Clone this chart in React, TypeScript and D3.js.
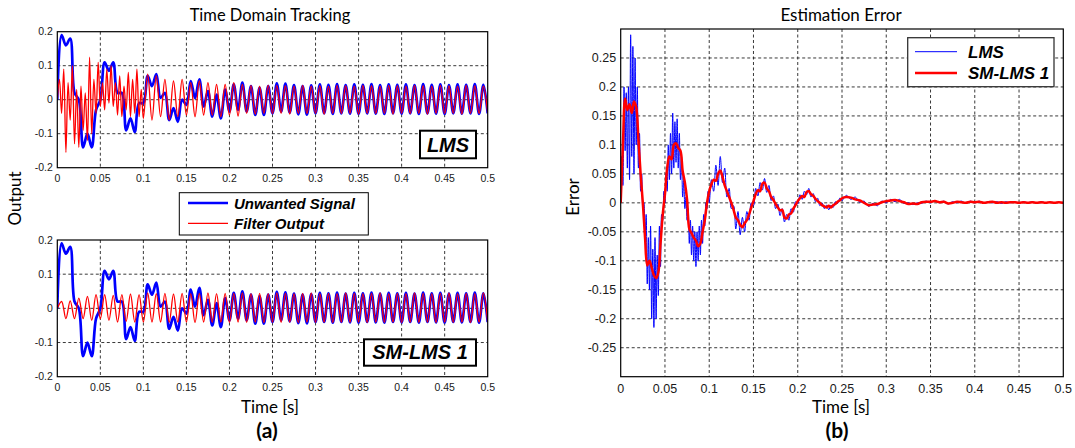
import React from 'react'
import * as d3 from 'd3'

// panel (a): unwanted signal, one value every 5 ms from t = 0
const unwantedSignal = [
  0.0, 0.19, 0.16, 0.18, 0.02, 0.0, -0.14, -0.1, -0.14, -0.03,
  0.0, 0.11, 0.085, 0.11, 0.02, 0.02, -0.09, -0.055, -0.095, -0.01,
  -0.01, 0.07, 0.04, 0.075, 0.005, 0.02, -0.06, -0.025, -0.065, 0.0,
  -0.015, 0.055, 0.005, 0.06, -0.02, 0.025, -0.05, 0.015, -0.055, 0.03,
  -0.035, 0.045, -0.03, 0.05, -0.035, 0.04, -0.045, 0.035, -0.045, 0.04,
  -0.04, 0.048, -0.035, 0.047, -0.038, 0.043, -0.043, 0.04, -0.044, 0.042,
  -0.04, 0.045, -0.04, 0.044, -0.042, 0.046, -0.04, 0.043, -0.041, 0.045,
  -0.042, 0.044, -0.04, 0.046, -0.041, 0.043, -0.042, 0.045, -0.04, 0.044,
  -0.041, 0.045, -0.04, 0.043, -0.042, 0.046, -0.04, 0.044, -0.041, 0.045,
  -0.042, 0.043, -0.04, 0.045, -0.041, 0.044, -0.04, 0.046, -0.042, 0.044,
  -0.04
]

// LMS filter output: 2.5 ms steps up to 0.1 s ...
const lmsOutputEarly = [
  0.0, 0.06, -0.04, 0.09, -0.155, 0.05, -0.06, 0.1, -0.13, 0.03,
  -0.14, 0.04, -0.09, 0.02, -0.12, 0.125, -0.1, 0.06, -0.04, 0.11,
  -0.02, 0.05, -0.03, 0.09, -0.01, 0.1, -0.02, 0.05, -0.045, 0.07,
  -0.05, 0.04, -0.03, 0.08, -0.05, 0.06, -0.04, 0.09, -0.05, 0.03,
  -0.055
]
// ... then 5 ms steps from 0.105 s
const lmsOutputLate = [
  0.075, -0.06, 0.07, -0.05, 0.06, -0.06, 0.055, -0.05, 0.06, -0.045,
  0.05, -0.05, 0.055, -0.045, 0.05, -0.045, 0.045, -0.05, 0.045, -0.045,
  0.05, -0.048, 0.045, -0.04, 0.042, -0.042, 0.04, -0.04, 0.043, -0.041,
  0.042, -0.04, 0.041, -0.042, 0.04, -0.04, 0.042, -0.041, 0.04, -0.04,
  0.041, -0.042, 0.04, -0.04, 0.042, -0.041, 0.041, -0.04, 0.04, -0.042,
  0.042, -0.04, 0.041, -0.041, 0.04, -0.04, 0.042, -0.042, 0.041, -0.04,
  0.04, -0.041, 0.042, -0.04, 0.041, -0.042, 0.04, -0.04, 0.042, -0.041,
  0.041, -0.04, 0.04, -0.042, 0.042, -0.04, 0.041, -0.041, 0.04, -0.04
]

// SM-LMS filter output, 5 ms steps
const smLmsOutput = [
  0.0, 0.02, -0.03, 0.022, -0.03, 0.03, -0.03, 0.035, -0.035, 0.04,
  -0.03, 0.04, -0.035, 0.038, -0.04, 0.04, -0.038, 0.042, -0.04, 0.04,
  -0.04, 0.045, -0.04, 0.043, -0.04, 0.044, -0.041, 0.042, -0.04, 0.044,
  -0.04, 0.043, -0.042, 0.044, -0.04, 0.045, -0.041, 0.043, -0.04, 0.044,
  -0.042, 0.044, -0.04, 0.045, -0.041, 0.043, -0.04, 0.044, -0.042, 0.043,
  -0.04, 0.045, -0.041, 0.044, -0.04, 0.043, -0.042, 0.044, -0.04, 0.045,
  -0.041, 0.043, -0.04, 0.044, -0.042, 0.043, -0.04, 0.045, -0.041, 0.044,
  -0.04, 0.043, -0.042, 0.044, -0.04, 0.045, -0.041, 0.043, -0.04, 0.044,
  -0.042, 0.043, -0.04, 0.045, -0.041, 0.044, -0.04, 0.043, -0.042, 0.044,
  -0.04, 0.045, -0.041, 0.043, -0.04, 0.044, -0.042, 0.043, -0.04, 0.045,
  -0.041
]

// panel (b): LMS error, 1.25 ms steps up to 0.1 s, 2.5 ms to 0.25 s, then 5 ms
const lmsErrorA = [
  0.0, 0.08, 0.03, 0.2, 0.09, 0.19, 0.06, 0.2, 0.04, 0.29,
  0.08, 0.27, 0.05, 0.25, 0.1, 0.2, 0.06, 0.12, 0.02, 0.05,
  -0.01, 0.0, -0.06, -0.02, -0.14, -0.06, -0.15, -0.04, -0.2, -0.08,
  -0.215, -0.06, -0.2, -0.09, -0.16, -0.04, -0.11, -0.02, -0.03, 0.02,
  0.0, 0.05, 0.02, 0.1, 0.04, 0.12, 0.05, 0.155, 0.06, 0.14,
  0.07, 0.145, 0.06, 0.12, 0.04, 0.08, 0.01, 0.04, -0.01, 0.01,
  -0.03, -0.01, -0.07, -0.03, -0.09, -0.04, -0.1, -0.05, -0.11, -0.05,
  -0.1, -0.04, -0.09, -0.03, -0.07, -0.02, -0.04, 0.0, -0.01, 0.02,
  0.0
]
const lmsErrorB = [
  0.04, 0.02, 0.065, 0.03, 0.08, 0.035, 0.06, 0.01, 0.025,
  -0.01, -0.005, -0.045, -0.015, -0.055, -0.025, -0.05, -0.015, -0.03, 0.0,
  -0.005, 0.025, 0.012, 0.035, 0.022, 0.042, 0.018, 0.03, 0.004, 0.012,
  -0.01, -0.002, -0.022, -0.01, -0.033, -0.02, -0.03, -0.01, -0.016, 0.002,
  -0.002, 0.014, 0.006, 0.02, 0.014, 0.025, 0.01, 0.016, 0.002, 0.008,
  -0.005, 0.0, -0.01, -0.004, -0.012, -0.004, -0.008, 0.002, -0.001, 0.008,
  0.004
]
const lmsErrorC = [
  0.013, 0.006, 0.01, 0.001, 0.003, -0.006, -0.001, -0.005, 0.003, 0.0,
  0.006, 0.002, 0.006, -0.001, 0.0, -0.003, 0.0, -0.001, 0.003, 0.0,
  0.004, 0.0, 0.003, -0.002, 0.002, 0.0, 0.003, -0.001, 0.003, 0.0,
  0.003, -0.001, 0.002, 0.0, 0.002, -0.001, 0.002, 0.0, 0.002, -0.001,
  0.002, 0.0, 0.002, -0.001, 0.002, 0.0, 0.001, 0.0, 0.001, 0.0
]
// SM-LMS error, 2.5 ms steps up to 0.25 s, then 5 ms
const smLmsErrorEarly = [
  0.0, 0.1, 0.18, 0.16, 0.17, 0.155, 0.175, 0.165, 0.11, 0.05,
  0.0, -0.06, -0.108, -0.1, -0.112, -0.125, -0.13, -0.12, -0.07, -0.02,
  0.015, 0.06, 0.08, 0.075, 0.1, 0.103, 0.095, 0.09, 0.055, 0.035,
  0.005, -0.045, -0.052, -0.06, -0.065, -0.075, -0.07, -0.05, -0.03, 0.0,
  0.02, 0.032, 0.04, 0.038, 0.05, 0.056, 0.045, 0.03, 0.02, 0.01,
  0.0, -0.012, -0.025, -0.03, -0.038, -0.042, -0.035, -0.03, -0.02, -0.008,
  0.003, 0.015, 0.022, 0.02, 0.033, 0.035, 0.025, 0.02, 0.01, 0.005,
  -0.002, -0.008, -0.013, -0.012, -0.025, -0.027, -0.02, -0.018, -0.01, -0.004,
  0.003, 0.008, 0.012, 0.01, 0.019, 0.02, 0.015, 0.012, 0.007, 0.003,
  0.0, -0.004, -0.006, -0.008, -0.005, -0.008, -0.004, -0.002, 0.002, 0.004,
  0.008
]
const smLmsErrorLate = [
  0.01, 0.009, 0.006, 0.004, 0.0, -0.004, -0.003, -0.002, 0.001, 0.003,
  0.004, 0.005, 0.003, 0.001, -0.002, -0.001, -0.002, 0.001, 0.002, 0.002,
  0.003, 0.001, 0.002, -0.001, 0.0, 0.002, 0.001, 0.0, 0.002, 0.001,
  0.002, 0.0, 0.001, 0.002, 0.0, 0.001, 0.0, 0.001, 0.001, 0.0,
  0.001, 0.0, 0.001, 0.0, 0.001, 0.0, 0.001, 0.0, 0.001, 0.0
]

const timeTicks = [0, 0.05, 0.1, 0.15, 0.2, 0.25, 0.3, 0.35, 0.4, 0.45, 0.5]
const outputTicks = [-0.2, -0.1, 0, 0.1, 0.2]
const errorTicks = [-0.25, -0.2, -0.15, -0.1, -0.05, 0, 0.05, 0.1, 0.15, 0.2, 0.25]

const BLUE = '#0000ff'
const RED = '#ff0000'
const ARIAL = '"Liberation Sans", Arial, sans-serif'
const CALIBRI = 'Lato, "Open Sans", sans-serif'

type Pt = [number, number]
const sampled = (values: number[], start: number, step: number): Pt[] =>
  values.map((v, i) => [start + i * step, v])

const unwantedPts = sampled(unwantedSignal, 0, 0.005)
const lmsOutputPts = [...sampled(lmsOutputEarly, 0, 0.0025), ...sampled(lmsOutputLate, 0.105, 0.005)]
const smLmsOutputPts = sampled(smLmsOutput, 0, 0.005)
const lmsErrorPts = [
  ...sampled(lmsErrorA, 0, 0.00125),
  ...sampled(lmsErrorB, 0.1025, 0.0025),
  ...sampled(lmsErrorC, 0.255, 0.005)
]
const smLmsErrorPts = [...sampled(smLmsErrorEarly, 0, 0.0025), ...sampled(smLmsErrorLate, 0.255, 0.005)]

const fmt = (v: number) => String(+v.toFixed(3))

type Series = { pts: Pt[]; color: string; width: number }

function Axes({ id, box, yDomain, yTicks, fontSize, series }: {
  id: string
  box: [number, number, number, number]
  yDomain: [number, number]
  yTicks: number[]
  fontSize: number
  series: Series[]
}) {
  const [left, top, right, bottom] = box
  const x = d3.scaleLinear().domain([0, 0.5]).range([left, right])
  const y = d3.scaleLinear().domain(yDomain).range([bottom, top])
  const line = d3.line<Pt>().x(d => x(d[0])).y(d => y(d[1])).curve(d3.curveCatmullRom.alpha(0.5))
  const xGrid = timeTicks.filter(t => t > 0 && t < 0.5)
  const yGrid = yTicks.filter(v => v > yDomain[0] && v < yDomain[1])

  return (
    <g>
      <rect x={left} y={top} width={right - left} height={bottom - top} fill="#fff" />
      <clipPath id={id}>
        <rect x={left} y={top} width={right - left} height={bottom - top} />
      </clipPath>
      <g stroke="#222" strokeWidth={0.9} strokeDasharray="3,2.5">
        {xGrid.map(t => <line key={'x' + t} x1={x(t)} x2={x(t)} y1={top} y2={bottom} />)}
        {yGrid.map(v => <line key={'y' + v} x1={left} x2={right} y1={y(v)} y2={y(v)} />)}
      </g>
      <g clipPath={`url(#${id})`} fill="none" strokeLinejoin="round">
        {series.map((s, i) => (
          <path key={i} d={line(s.pts) || ''} stroke={s.color} strokeWidth={s.width} />
        ))}
      </g>
      <rect x={left} y={top} width={right - left} height={bottom - top} fill="none" stroke="#000" strokeWidth={1.2} />
      <g fontFamily={ARIAL} fontSize={fontSize} fill="#1a1a1a">
        {timeTicks.map(t => (
          <text key={t} x={x(t)} y={bottom + fontSize + 4} textAnchor="middle">{fmt(t)}</text>
        ))}
        {yTicks.map(v => (
          <text key={v} x={left - 4.5} y={y(v)} dy="0.35em" textAnchor="end">{fmt(v)}</text>
        ))}
      </g>
    </g>
  )
}

function LabelBox({ x, y, w, h, text }: { x: number; y: number; w: number; h: number; text: string }) {
  return (
    <g>
      <rect x={x} y={y} width={w} height={h} fill="#fff" stroke="#000" strokeWidth={2} />
      <text x={x + w / 2} y={y + h - 6.5} textAnchor="middle" fontFamily={ARIAL}
        fontWeight="bold" fontStyle="italic" fontSize={20}>{text}</text>
    </g>
  )
}

export default function App() {
  return (
    <svg width={1075} height={448} style={{ position: 'absolute', left: 0, top: 0, background: '#fff' }}>
      {/* (a) time domain tracking */}
      <text x={270} y={20.5} textAnchor="middle" fontFamily={CALIBRI} fontSize={16.5}>Time Domain Tracking</text>
      <Axes id="clip-lms" box={[57.3, 31.7, 487.7, 167.7]} yDomain={[-0.2, 0.2]} yTicks={outputTicks}
        fontSize={10.5}
        series={[
          { pts: unwantedPts, color: BLUE, width: 2.7 },
          { pts: lmsOutputPts, color: RED, width: 1.3 }
        ]} />
      <LabelBox x={420} y={130.7} w={56} h={27.6} text="LMS" />
      <Axes id="clip-smlms" box={[57.3, 240, 487.7, 376.7]} yDomain={[-0.2, 0.2]} yTicks={outputTicks}
        fontSize={10.5}
        series={[
          { pts: unwantedPts, color: BLUE, width: 2.7 },
          { pts: smLmsOutputPts, color: RED, width: 1.3 }
        ]} />
      <LabelBox x={364} y={339.3} w={112} h={26.4} text="SM-LMS 1" />

      <g>
        <rect x={179.3} y={192.7} width={189} height={42.3} fill="#fff" stroke="#000" strokeWidth={1} />
        <line x1={188} x2={228} y1={203} y2={203} stroke={BLUE} strokeWidth={2.7} />
        <line x1={188} x2={228} y1={223.3} y2={223.3} stroke={RED} strokeWidth={1.3} />
        <g fontFamily={ARIAL} fontWeight="bold" fontStyle="italic" fontSize={15}>
          <text x={234} y={208.8}>Unwanted Signal</text>
          <text x={234} y={228.6}>Filter Output</text>
        </g>
      </g>

      <text transform="translate(21,198.5) rotate(-90)" textAnchor="middle" fontFamily={CALIBRI} fontSize={17}>Output</text>
      <text x={270} y={413} textAnchor="middle" fontFamily={CALIBRI} fontSize={17}>Time [s]</text>
      <text x={267} y={438} textAnchor="middle" fontFamily={CALIBRI} fontWeight="bold" fontSize={21}>(a)</text>

      {/* (b) estimation error */}
      <text x={841} y={21} textAnchor="middle" fontFamily={CALIBRI} fontSize={17}>Estimation Error</text>
      <Axes id="clip-err" box={[620.7, 29, 1063.3, 376.7]} yDomain={[-0.3, 0.3]} yTicks={errorTicks}
        fontSize={12.5}
        series={[
          { pts: lmsErrorPts, color: BLUE, width: 1 },
          { pts: smLmsErrorPts, color: RED, width: 2.5 }
        ]} />
      <g>
        <rect x={907.7} y={37.7} width={146.3} height={49} fill="#fff" stroke="#333" strokeWidth={1.3} />
        <line x1={915} x2={957} y1={51.7} y2={51.7} stroke={BLUE} strokeWidth={1} />
        <line x1={915} x2={957} y1={73} y2={73} stroke={RED} strokeWidth={2.5} />
        <g fontFamily={ARIAL} fontWeight="bold" fontStyle="italic" fontSize={17}>
          <text x={968} y={57.8}>LMS</text>
          <text x={968} y={78.6}>SM-LMS 1</text>
        </g>
      </g>
      <text transform="translate(579,197) rotate(-90)" textAnchor="middle" fontFamily={CALIBRI} fontSize={17}>Error</text>
      <text x={841} y={413} textAnchor="middle" fontFamily={CALIBRI} fontSize={17}>Time [s]</text>
      <text x={837} y={438} textAnchor="middle" fontFamily={CALIBRI} fontWeight="bold" fontSize={21}>(b)</text>
    </svg>
  )
}
